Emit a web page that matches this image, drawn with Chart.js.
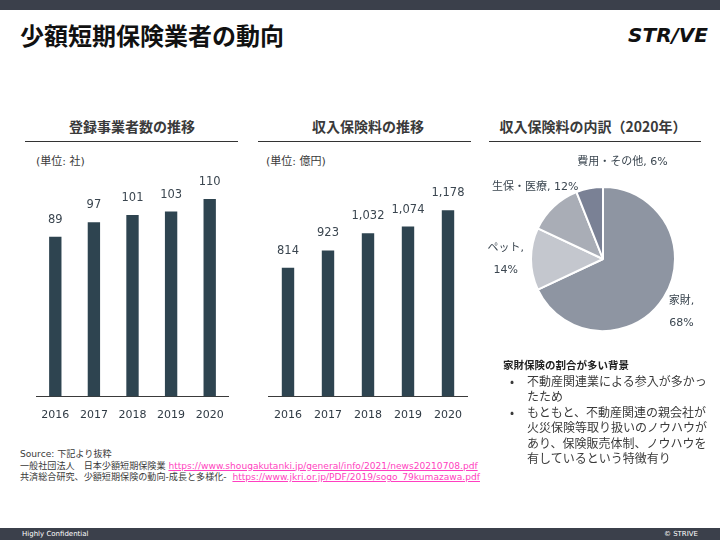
<!DOCTYPE html>
<html><head><meta charset="utf-8">
<script src="https://cdn.jsdelivr.net/npm/chart.js@4.4.1/dist/chart.umd.min.js"></script>
<style>
html,body{margin:0;padding:0;background:#fff;}
#page{position:relative;width:720px;height:540px;overflow:hidden;font-family:"DejaVu Sans","Noto Sans CJK JP",sans-serif;color:#333;}
.abs{position:absolute;white-space:nowrap;}
#topbar{left:0;top:0;width:720px;height:10px;background:#3b404b;}
#title{left:20px;top:19px;font-family:"Noto Sans CJK JP",sans-serif;font-weight:700;font-size:24px;line-height:32px;color:#111;}
#logo{right:12px;top:21px;font-family:"DejaVu Sans",sans-serif;font-weight:700;font-style:italic;font-size:20px;line-height:28px;color:#111;letter-spacing:0px;}
.ctitle{font-family:"Noto Sans CJK JP",sans-serif;font-weight:700;font-size:14px;line-height:18px;color:#3a3a3a;text-align:center;}
.rule{height:0;border-top:1.5px solid #333;}
.unit{font-family:"DejaVu Sans","Noto Sans CJK JP",sans-serif;font-size:11px;line-height:14px;color:#3a3a3a;}
canvas{position:absolute;}
#notes{left:503px;top:357px;font-family:"Noto Sans CJK JP",sans-serif;font-size:12px;line-height:15.5px;color:#3a3a3a;}
#notes .h{font-weight:700;font-size:10.5px;color:#222;}
.bul{position:absolute;left:9px;}
.btxt{position:absolute;left:24px;}
#source{left:20px;top:449px;font-family:"DejaVu Sans","Noto Sans CJK JP",sans-serif;font-size:9.1px;line-height:11.5px;color:#3a3a3a;}
#source a{color:#ff3fc0;text-decoration:underline;}
#footer{left:0;top:528px;width:720px;height:12px;background:#3b404b;}
#conf{left:22px;top:529px;font-size:7px;line-height:11px;color:#fff;font-family:"DejaVu Sans",sans-serif;}
#copy{right:22px;top:529px;font-size:7px;line-height:11px;color:#fff;font-family:"DejaVu Sans",sans-serif;}
</style>
</head>
<body>
<div id="page">
  <div id="topbar" class="abs"></div>
  <div id="title" class="abs">少額短期保険業者の動向</div>
  <div id="logo" class="abs">STR/VE</div>

  <div class="abs ctitle" style="left:62px;top:117px;width:140px;">登録事業者数の推移</div>
  <div class="abs rule" style="left:25px;top:141px;width:213px;"></div>
  <div class="abs unit" style="left:36px;top:155px;">(単位: 社)</div>

  <div class="abs ctitle" style="left:298px;top:117px;width:140px;">収入保険料の推移</div>
  <div class="abs rule" style="left:258px;top:141px;width:213px;"></div>
  <div class="abs unit" style="left:266px;top:155px;">(単位: 億円)</div>

  <div class="abs ctitle" style="left:493px;top:117px;width:200px;">収入保険料の内訳（2020年）</div>
  <div class="abs rule" style="left:489px;top:141px;width:212px;"></div>

  <canvas id="c1" width="193" height="261" style="left:36px;top:172px;"></canvas>
  <canvas id="c2" width="200" height="258" style="left:268px;top:175px;"></canvas>
  <canvas id="c3" width="234" height="218" style="left:486px;top:150px;"></canvas>

  <div id="notes" class="abs">
    <div class="h">家財保険の割合が多い背景</div>
    <div style="position:relative;height:31px;"><span class="bul" style="left:7px;">•</span><span class="btxt">不動産関連業による参入が多かっ<br>たため</span></div>
    <div style="position:relative;height:62px;"><span class="bul" style="left:7px;">•</span><span class="btxt">もともと、不動産関連の親会社が<br>火災保険等取り扱いのノウハウが<br>あり、保険販売体制、ノウハウを<br>有しているという特徴有り</span></div>
  </div>

  <div id="source" class="abs">
    Source: 下記より抜粋<br>
    一般社団法人　日本少額短期保険業 <a>https://www.shougakutanki.jp/general/info/2021/news20210708.pdf</a><br>
    共済総合研究、少額短期保険の動向-成長と多様化-&nbsp; <a>https://www.jkri.or.jp/PDF/2019/sogo_79kumazawa.pdf</a>
  </div>

  <div id="footer" class="abs"></div>
  <div id="conf" class="abs">Highly Confidential</div>
  <div id="copy" class="abs">© STRIVE</div>
</div>

<script>
// ---- data ----
const years = ['2016', '2017', '2018', '2019', '2020'];
const registeredCompanies = [89, 97, 101, 103, 110];
const premiumIncome = [814, 923, 1032, 1074, 1178];
const breakdownLabels = ['家財', 'ペット', '生保・医療', '費用・その他'];
const breakdownShares = [68, 14, 12, 6];

// ---- styling ----
const BAR_COLOR = '#2e4450';
const TEXT_COLOR = '#3b4650';
const PIE_COLORS = ['#8e95a2', '#c4c7ce', '#a9adb6', '#7a8195'];
// label placement (radius factor along slice mid-angle, pixel nudge, wrap)
const PIE_LABEL_LAYOUT = [
  {f: 1.29, dx: 0, dy: 3.5, wrap: true},
  {f: 1.35, dx: 0, dy: 0, wrap: true},
  {f: 1.375, dx: 0, dy: 0, wrap: false},
  {f: 1.365, dx: 38, dy: 0, wrap: false}
];

const valueLabels = {
  id: 'valueLabels',
  afterDatasetsDraw(chart) {
    const ctx = chart.ctx;
    const meta = chart.getDatasetMeta(0);
    const data = chart.data.datasets[0].data;
    ctx.save();
    ctx.font = '11.5px "DejaVu Sans"';
    ctx.fillStyle = TEXT_COLOR;
    ctx.textAlign = 'center';
    ctx.textBaseline = 'middle';
    meta.data.forEach((el, i) => {
      ctx.fillText(data[i].toLocaleString('en-US'), el.x, el.y - 17);
    });
    ctx.restore();
  }
};

const pieLabels = {
  id: 'pieLabels',
  afterDatasetsDraw(chart) {
    const ctx = chart.ctx;
    const meta = chart.getDatasetMeta(0);
    const data = chart.data.datasets[0].data;
    ctx.save();
    ctx.font = '11px "DejaVu Sans", "Noto Sans CJK JP"';
    ctx.fillStyle = TEXT_COLOR;
    ctx.textAlign = 'center';
    ctx.textBaseline = 'middle';
    meta.data.forEach((arc, i) => {
      const lay = PIE_LABEL_LAYOUT[i];
      const mid = (arc.startAngle + arc.endAngle) / 2;
      const r = arc.outerRadius * lay.f;
      const x = arc.x + Math.cos(mid) * r + lay.dx;
      const y = arc.y + Math.sin(mid) * r + lay.dy;
      const name = chart.data.labels[i];
      const pct = data[i] + '%';
      if (lay.wrap) {
        ctx.fillText(name + ',', x, y - 11);
        ctx.fillText(pct, x, y + 11);
      } else {
        ctx.fillText(name + ', ' + pct, x, y);
      }
    });
    ctx.restore();
  }
};

function barConfig(values, yMax, barPct) {
  return {
    type: 'bar',
    data: {
      labels: years,
      datasets: [{
        data: values,
        backgroundColor: BAR_COLOR,
        barPercentage: barPct,
        categoryPercentage: 1
      }]
    },
    options: {
      responsive: false,
      animation: false,
      devicePixelRatio: 1,
      layout: {padding: 0},
      plugins: {legend: {display: false}, tooltip: {enabled: false}},
      scales: {
        x: {
          grid: {display: false, drawTicks: false},
          border: {display: true, color: '#3a3a3a', width: 1},
          ticks: {color: '#2f3a44', font: {family: 'DejaVu Sans', size: 11, lineHeight: 2.4}, padding: 5, maxRotation: 0, autoSkip: false}
        },
        y: {display: false, min: 0, max: yMax}
      }
    },
    plugins: [valueLabels]
  };
}

new Chart(document.getElementById('c1'), barConfig(registeredCompanies, 125, 0.32));
new Chart(document.getElementById('c2'), barConfig(premiumIncome, 1400, 0.31));

new Chart(document.getElementById('c3'), {
  type: 'pie',
  data: {
    labels: breakdownLabels,
    datasets: [{
      data: breakdownShares,
      backgroundColor: PIE_COLORS,
      borderColor: '#ffffff',
      borderWidth: 2
    }]
  },
  options: {
    responsive: false,
    animation: false,
    devicePixelRatio: 1,
    radius: 72,
    layout: {padding: 0},
    plugins: {legend: {display: false}, tooltip: {enabled: false}}
  },
  plugins: [pieLabels]
});
</script>
</body></html>
